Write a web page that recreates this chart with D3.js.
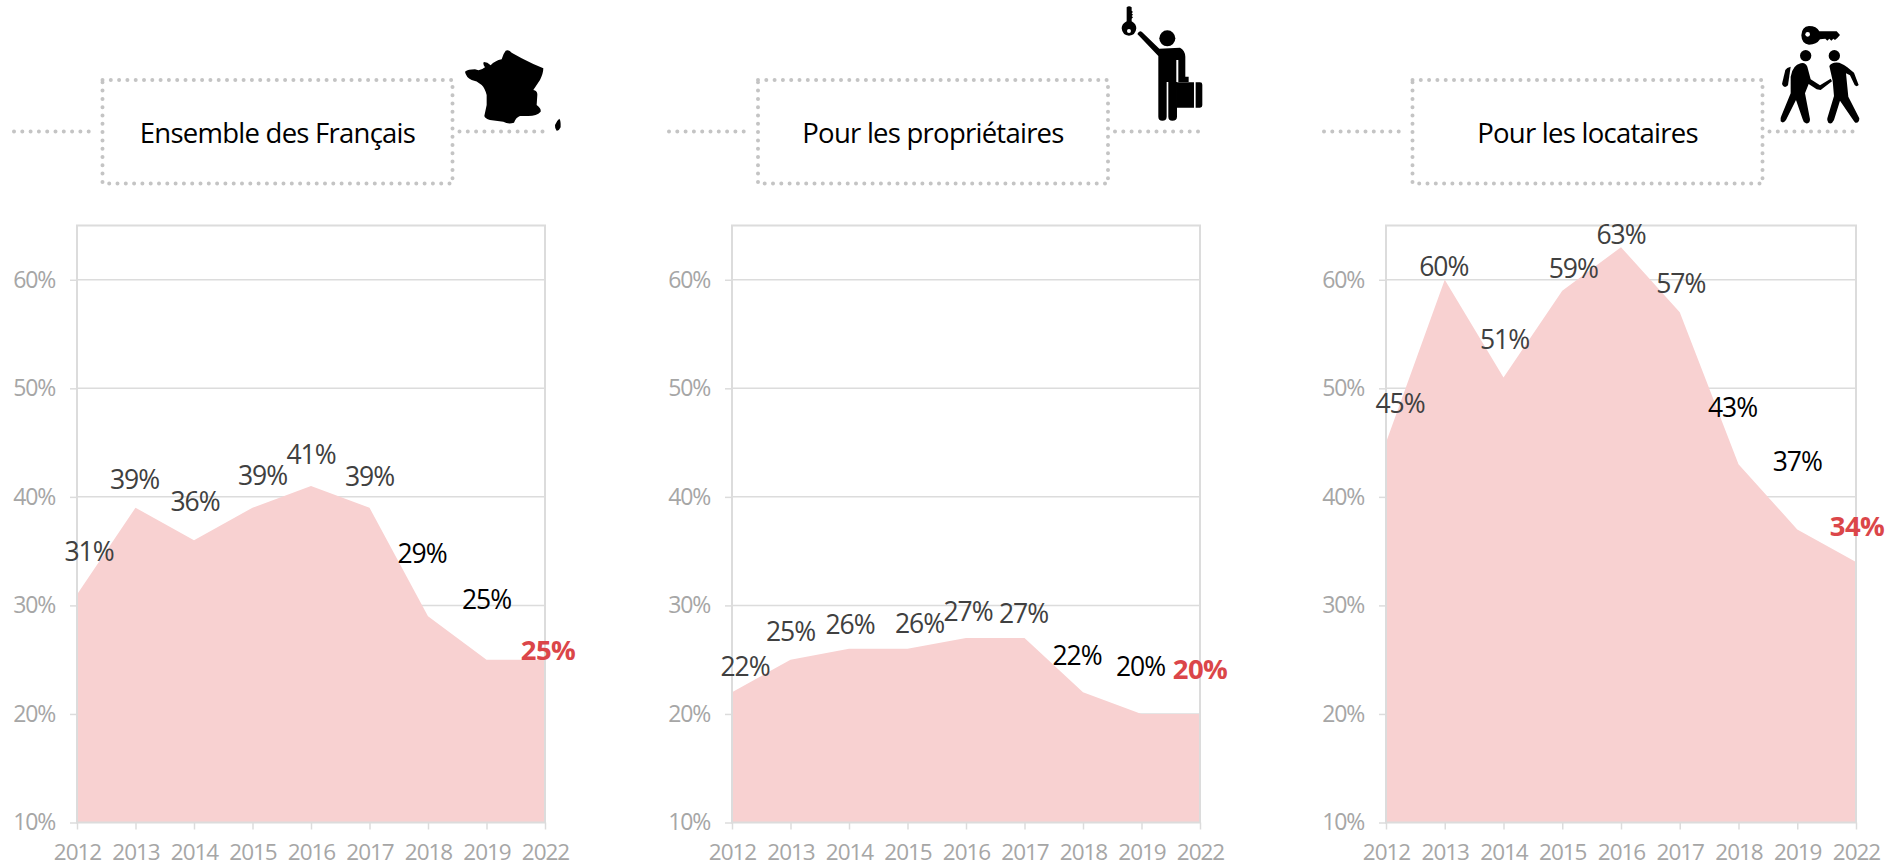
<!DOCTYPE html>
<html><head><meta charset="utf-8">
<script src="https://cdn.jsdelivr.net/npm/d3@7/dist/d3.min.js"></script>
<style>
html,body{margin:0;padding:0;background:#fff;overflow:hidden}
svg{display:block}
text{font-family:"Open Sans",sans-serif}
</style></head><body>
<svg id="c" width="1893" height="867"></svg>
<script>
const years = ["2012","2013","2014","2015","2016","2017","2018","2019","2022"];
const yTicks = [10,20,30,40,50,60];
const titles = ["Ensemble des Français","Pour les propriétaires","Pour les locataires"];
const ensemble = [31,39,36,39,41,39,29,25,25];
const proprietaires = [22,25,26,26,27,27,22,20,20];
const locataires = [45,60,51,59,63,57,43,37,34];
const series = [ensemble, proprietaires, locataires];

// layout: plot frames and hand-placed label offsets (px from the data point)
const frames = [{l:77,r:545},{l:732,r:1200},{l:1386,r:1856}];
const boxes = [{l:102.5,r:452.5,lineL:14},{l:758,r:1108,lineL:669},{l:1412.5,r:1762.5,lineL:1324}];
const plotTop = 225.5, plotBottom = 822.5, boxTop = 80, boxBottom = 183.5, lineY = 131.5;
const labelDx = [[12,-1,1,10,0,0,-6,0,3],[13,0,1,12,2,-1,-6,-1,0],[14,-1,1,11,0,1,-6,0,1]];
const labelDy = [[-44,-29,-39,-33,-32,-32,-63,-61,-10],[-26,-29,-25,-26,-27,-25,-37,-48,-45],[-40,-14,-38,-23,-13,-29,-57,-68,-36]];

const svg = d3.select("#c");
const y = d3.scaleLinear().domain([10,65]).range([plotBottom,plotTop]);
const GRID="#dcdcdc", TICK="#a6a6a6", DOT="#c4c4c4", AREA="#f8d1d1", RED="#db4649";

series.forEach((vals,i)=>{
  const f=frames[i], b=boxes[i];
  const x=d3.scalePoint().domain(years).range([f.l,f.r]);
  const g=svg.append("g");

  // grid + y axis
  const ya=g.append("g").attr("transform",`translate(${f.l},0)`)
    .call(d3.axisLeft(y).tickValues(yTicks).tickFormat(d=>d+"%").tickSizeInner(6).tickSizeOuter(0).tickPadding(16));
  ya.select(".domain").remove();
  ya.selectAll("line").attr("stroke",GRID).attr("stroke-width",1.5).attr("x2",-7);
  ya.selectAll("text").attr("fill",TICK).style("font-size","23px").style("letter-spacing","-1.2px");
  g.append("g").selectAll("line").data(yTicks.slice(1)).join("line")
    .attr("x1",f.l).attr("x2",f.r).attr("y1",d=>y(d)).attr("y2",d=>y(d))
    .attr("stroke",GRID).attr("stroke-width",1.5);

  // area
  const area=d3.area().x((d,k)=>x(years[k])).y0(y(10)).y1(d=>y(d));
  g.append("path").datum(vals).attr("d",area).attr("fill",AREA);

  // frame
  g.append("rect").attr("x",f.l).attr("y",plotTop).attr("width",f.r-f.l).attr("height",plotBottom-plotTop)
    .attr("fill","none").attr("stroke",GRID).attr("stroke-width",2);

  // x axis
  const xa=g.append("g").attr("transform",`translate(0,${plotBottom})`)
    .call(d3.axisBottom(x).tickSizeInner(7).tickSizeOuter(0).tickPadding(14.9));
  xa.select(".domain").remove();
  xa.selectAll("line").attr("stroke",GRID).attr("stroke-width",1.5);
  xa.selectAll("text").attr("fill",TICK).style("font-size","22.5px").style("letter-spacing","-1px");

  // value labels
  g.append("g").selectAll("text").data(vals).join("text")
    .attr("x",(d,k)=>x(years[k])+labelDx[i][k])
    .attr("y",(d,k)=>y(d)+labelDy[i][k])
    .attr("text-anchor","middle").attr("dominant-baseline","central")
    .attr("fill",(d,k)=>k===8?RED:(k>=6?"#000":"#404040"))
    .attr("font-weight",(d,k)=>k===8?700:400)
    .style("font-size",(d,k)=>k===8?"27.5px":"26.5px").style("letter-spacing",(d,k)=>k===8?"-0.6px":"-1px")
    .text(d=>d+"%");

  // title box with dotted rules
  const dotted=s=>s.attr("fill","none").attr("stroke",DOT).attr("stroke-width",4)
    .attr("stroke-linecap","round").attr("stroke-dasharray","0 8.3");
  g.append("rect").attr("x",b.l).attr("y",boxTop).attr("width",b.r-b.l).attr("height",boxBottom-boxTop).call(dotted);
  g.append("line").attr("x1",b.lineL).attr("x2",b.l-6).attr("y1",lineY).attr("y2",lineY).call(dotted);
  g.append("line").attr("x1",b.r+7).attr("x2",f.r).attr("y1",lineY).attr("y2",lineY).call(dotted);
  g.append("text").attr("x",(b.l+b.r)/2).attr("y",132).attr("text-anchor","middle")
    .attr("dominant-baseline","central").attr("fill","#000")
    .style("font-size","27.5px").style("letter-spacing","-0.75px").text(titles[i]);
});

// icons (pictograms)
const ic=svg.append("g").attr("fill","#000");
// France: zoom-crop coordinates /3
const fr=ic.append("g").attr("transform","translate(440,30) scale(0.3333)");
fr.append("path").attr("d","M75,125 Q85,118 105,118 Q120,125 135,112 Q127,100 132,96 Q142,96 152,106 Q165,92 185,88 Q190,70 197,62 Q205,58 215,68 L245,85 L280,102 L310,115 Q310,130 300,150 L280,180 Q293,182 292,195 L290,225 Q304,235 302,245 Q290,258 265,258 L240,258 Q228,262 222,278 Q205,284 190,275 L150,270 Q135,265 133,258 L140,225 L140,195 Q135,175 125,165 Q110,152 95,150 Q78,142 75,125Z");
fr.append("path").attr("d","M358,266 Q362,270 362,285 L362,292 Q357,303 350,302 Q344,295 345,285 Q350,272 358,266Z");

// owner: crop origin (1050,0)
const ow=ic.append("g").attr("transform","translate(1050,0) scale(0.3333)");
ow.append("circle").attr("cx",352).attr("cy",115).attr("r",24);
ow.append("path").attr("d","M262,102 Q268,90 276,96 L328,146 L390,143 Q405,150 406,170 L406,230 L416,230 L416,246 L381,246 L381,350 Q381,362 367,362 Q355,362 355,350 L355,246 L350,246 L350,350 Q350,362 337,362 Q325,362 325,350 L325,168 Z");
ow.append("path").attr("d","M380,247 L432,247 L432,323 L380,323Z M437,247 L450,247 Q457,247 457,254 L457,316 Q457,323 450,323 L437,323Z");
ow.append("rect").attr("x",379).attr("y",180).attr("width",6).attr("height",66).attr("fill","#fff");
ow.append("path").attr("d","M230,22 Q237,15 245,22 L245,32 L249,36 L245,40 L249,44 L245,48 L249,52 L245,56 L245,64 Q259,72 259,85 Q257,106 237,107 Q217,106 215,85 Q215,72 230,64Z");
ow.append("circle").attr("cx",237).attr("cy",93).attr("r",6).attr("fill","#fff");

// tenants: crop origin (1760,10)
const te=ic.append("g").attr("transform","translate(1760,10) scale(0.3333)");
te.append("path").attr("d","M147,48 Q170,48 178,64 L230,64 L240,75 L232,84 L225,90 L220,86 L214,92 L208,86 L202,92 L196,86 L180,88 Q170,104 147,104 Q125,102 124,76 Q125,50 147,48Z");
te.append("circle").attr("cx",143).attr("cy",73).attr("r",7).attr("fill","#fff");
te.append("circle").attr("cx",137).attr("cy",137).attr("r",17);
te.append("circle").attr("cx",223).attr("cy",137).attr("r",17);
te.append("path").attr("d","M122,160 Q135,155 142,170 L152,208 L180,226 L212,206 L216,214 L182,240 L170,238 L146,222 L135,250 L150,328 Q150,342 138,340 Q130,338 128,328 L108,270 L78,330 Q70,342 62,334 Q60,325 64,318 L92,250 L92,200 Q98,165 122,160Z");
te.append("path").attr("d","M66,222 L76,180 Q80,172 92,170 L84,226 Q72,238 66,222Z");
te.append("path").attr("d","M208,168 Q215,155 238,158 Q255,165 262,172 L282,188 L296,225 Q290,232 284,225 L270,196 L258,190 L265,260 L298,325 Q298,340 286,338 L282,334 L240,272 L222,330 Q215,345 205,338 Q200,332 202,325 L222,258 L218,212 Z");
</script>
</body></html>
